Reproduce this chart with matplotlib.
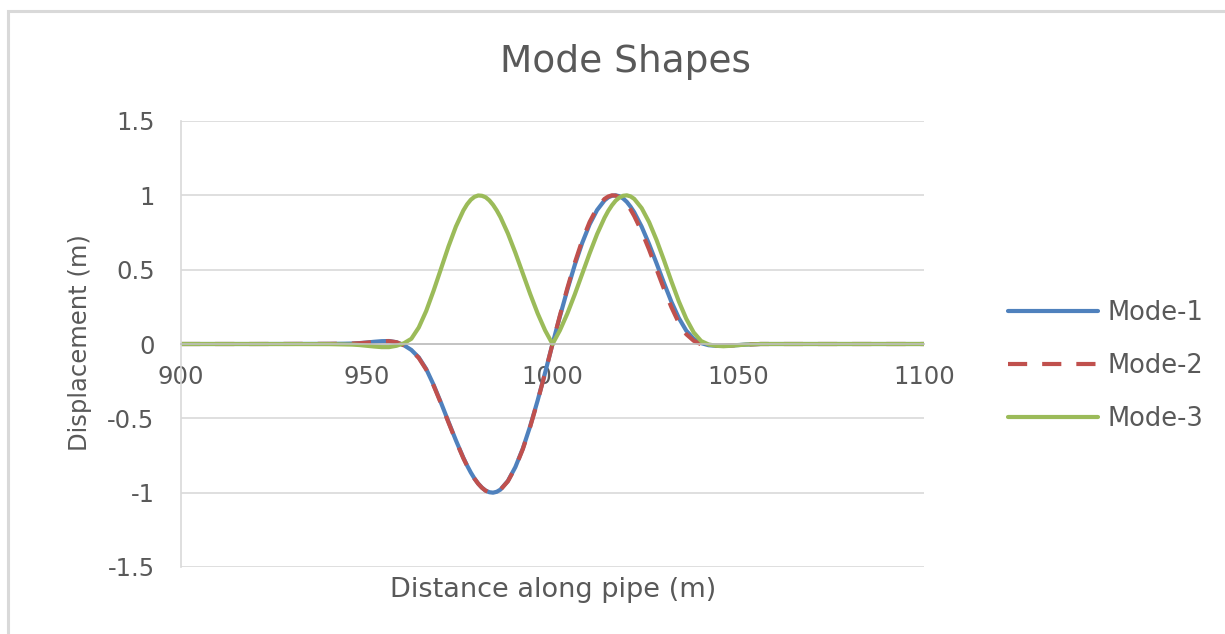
import numpy as np
import matplotlib
matplotlib.use("Agg")
import matplotlib.pyplot as plt
from matplotlib.patches import Rectangle

# distance along pipe (m)
dist = [900, 920, 940, 944, 946, 948, 950, 952, 954, 956, 958, 960, 962, 964, 966, 968,
        970, 972, 974, 976, 977, 978, 979, 980, 981, 982, 983, 984, 985, 986, 988,
        990, 992, 994, 996, 998,
        1000, 1002, 1004, 1006, 1008, 1010, 1012, 1014, 1015, 1016, 1017, 1018, 1019,
        1020, 1021, 1022, 1024,
        1026, 1028, 1030, 1032, 1034, 1036, 1038, 1040, 1042, 1044, 1046, 1048, 1050,
        1052, 1054, 1056, 1060, 1080, 1100]

mode1 = [0.0, 0.0, 0.001, 0.002, 0.003, 0.006, 0.010, 0.015, 0.019, 0.020, 0.012, -0.008,
         -0.040, -0.090, -0.168, -0.275,
         -0.396, -0.523, -0.648, -0.765, -0.817, -0.864, -0.905, -0.939, -0.966, -0.986,
         -0.997, -1.000, -0.994, -0.979, -0.921,
         -0.828, -0.704, -0.552, -0.380, -0.194,
         0.0, 0.186, 0.365, 0.532, 0.680, 0.805, 0.901, 0.966, 0.986, 0.997, 1.000, 0.994,
         0.979, 0.956, 0.924, 0.886, 0.789,
         0.672, 0.543, 0.411, 0.284, 0.175, 0.090, 0.035, 0.006, -0.008, -0.012, -0.012,
         -0.010, -0.007, -0.004, -0.002, 0.0, 0.0, 0.0, 0.0]

mode2 = [0.0, 0.0, 0.001, 0.002, 0.003, 0.005, 0.009, 0.014, 0.018, 0.019, 0.012, -0.009,
         -0.043, -0.094, -0.172, -0.280,
         -0.401, -0.528, -0.652, -0.768, -0.819, -0.866, -0.906, -0.940, -0.967, -0.987,
         -0.997, -1.000, -0.995, -0.980, -0.923,
         -0.831, -0.708, -0.556, -0.384, -0.196,
         0.0, 0.192, 0.376, 0.546, 0.697, 0.821, 0.916, 0.976, 0.992, 1.000, 0.998, 0.987,
         0.968, 0.940, 0.905, 0.861, 0.757,
         0.635, 0.503, 0.371, 0.248, 0.142, 0.066, 0.022, -0.002, -0.010, -0.013, -0.012,
         -0.010, -0.007, -0.004, -0.002, 0.0, 0.0, 0.0, 0.0]

mode3 = [0.0, 0.0, -0.001, -0.003, -0.004, -0.007, -0.012, -0.017, -0.021, -0.021, -0.012,
         0.005, 0.035, 0.111, 0.222, 0.359,
         0.507, 0.656, 0.790, 0.898, 0.939, 0.970, 0.990, 0.999, 0.997, 0.987,
         0.966, 0.936, 0.898, 0.853, 0.743,
         0.614, 0.475, 0.336, 0.206, 0.092,
         0.0, 0.092, 0.205, 0.334, 0.472, 0.610, 0.739, 0.849, 0.895, 0.933, 0.964, 0.985,
         0.997, 1.000, 0.993, 0.976, 0.914,
         0.820, 0.700, 0.564, 0.422, 0.287, 0.170, 0.078, 0.020, -0.003, -0.012, -0.015,
         -0.012, -0.008, -0.004, -0.002, 0.0, 0.0, 0.0, 0.0]

labels = ["Mode-1", "Mode-2", "Mode-3"]
colors = ["#4F81BD", "#C0504D", "#9BBB59"]
x_ticks = [900, 950, 1000, 1050, 1100]
y_ticks = [-1.5, -1, -0.5, 0, 0.5, 1, 1.5]
y_ticklabels = ["-1.5", "-1", "-0.5", "0", "0.5", "1", "1.5"]

plt.rcParams["font.family"] = ["DejaVu Sans"]
txt = "#595959"

W, H = 1225, 634
fig = plt.figure(figsize=(W / 100, H / 100), dpi=100)
ax = fig.add_axes([181 / W, 1 - 567 / H, (924 - 181) / W, (567 - 121) / H])

# light grey chart border (only top and left edges fall inside the picture)
fig.patches.append(Rectangle((8 / W, -0.05), 1.2, 1 - 11 / H + 0.05, transform=fig.transFigure,
                             fill=False, edgecolor="#d9d9d9", linewidth=2.2, zorder=0))

lw = 3.0
ax.plot(dist, mode1, color=colors[0], lw=lw, label=labels[0],
        solid_capstyle="round", solid_joinstyle="round")
ax.plot(dist, mode2, color=colors[1], lw=lw, label=labels[1], dashes=(4.6, 3.6),
        dash_joinstyle="round")
ax.plot(dist, mode3, color=colors[2], lw=lw, label=labels[2],
        solid_capstyle="round", solid_joinstyle="round")

ax.set_xlim(900, 1100)
ax.set_ylim(-1.5, 1.5)
ax.set_xticks(x_ticks)
ax.set_yticks(y_ticks)
ax.set_yticklabels(y_ticklabels)
ax.yaxis.grid(True, color="#d9d9d9", lw=1.2)
ax.set_axisbelow(True)

for s in ["top", "right"]:
    ax.spines[s].set_visible(False)
ax.spines["bottom"].set_position(("data", 0))
ax.spines["bottom"].set_color("#bfbfbf")
ax.spines["bottom"].set_linewidth(1.2)
ax.spines["left"].set_color("#d9d9d9")
ax.spines["left"].set_linewidth(1.2)
ax.tick_params(axis="both", length=0, labelsize=17.5, labelcolor=txt)
ax.tick_params(axis="x", pad=15)
ax.tick_params(axis="y", pad=19)

fig.text(626 / W, 1 - 62 / H, "Mode Shapes", ha="center", va="center", fontsize=27,
         color=txt)
fig.text(80 / W, 1 - 343 / H, "Displacement (m)", ha="center", va="center", rotation=90,
         fontsize=17.5, color=txt)
fig.text(553 / W, 1 - 590 / H, "Distance along pipe (m)", ha="center", va="center",
         fontsize=19.5, color=txt)

fs = 18.5
fs_px = fs * 100 / 72
leg = fig.legend(loc="center left", bbox_to_anchor=(1008 / W, 1 - 366 / H), frameon=False,
                 fontsize=fs, labelcolor=txt, handlelength=90 / fs_px,
                 handletextpad=9 / fs_px, labelspacing=(50 - 0.9 * fs_px) / fs_px,
                 borderpad=0, borderaxespad=0)

fig.savefig("out.png", dpi=100)
